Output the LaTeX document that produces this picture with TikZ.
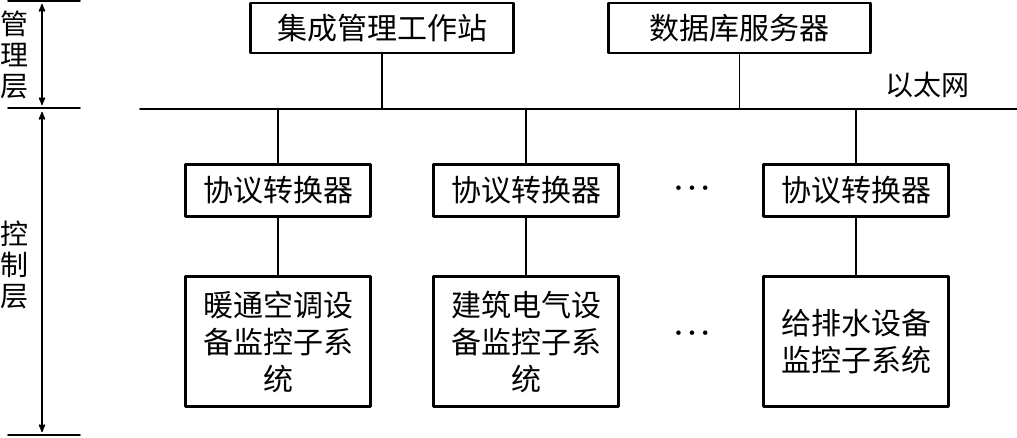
\documentclass[tikz,border=0pt]{standalone}
\usepackage{fontspec}
\newfontfamily\cjk{Noto Sans CJK SC}
\usepackage{tikz}
\usetikzlibrary{arrows}
\tikzstyle{box} = [draw, line width=2.6pt, inner sep=0pt, align=center, font=\cjk\fontsize{30}{37}\selectfont]
\tikzstyle{link} = [line width=1.3pt]
\tikzstyle{arrow} = [line width=1.6pt,<->,>=stealth']
\tikzstyle{layer} = [align=center, inner sep=0pt, font=\cjk\fontsize{28}{31}\selectfont]
\tikzstyle{more} = [inner sep=0pt, font=\fontsize{20}{22}\selectfont]

\begin{document}
\begin{tikzpicture}[line cap=round,line join=round,x=1pt,y=-1pt]
                \useasboundingbox (0,0) rectangle (1017,437);
                % management layer
                \node[box, minimum width=263pt, minimum height=50pt] (ws) at (382,28) {集成管理工作站};
                \node[box, minimum width=262pt, minimum height=50pt] (db) at (739.5,28) {数据库服务器};
                % ethernet
                \coordinate (busl) at (140,109);
                \coordinate (busr) at (1017,109);
                \draw [line width=1.6pt] (busl) -- (busr);
                \node[layer] (eth) at (927,85) {以太网};
                \draw [link] (ws.south) -- (ws.south |- busl);
                \draw [link] (db.south) -- (db.south |- busl);
                % control layer
                \node[box, minimum width=185pt, minimum height=52pt] (p1) at (278,190.5) {协议转换器};
                \node[box, minimum width=185pt, minimum height=52pt] (p2) at (526,190.5) {协议转换器};
                \node[box, minimum width=185pt, minimum height=52pt] (p3) at (856,190.5) {协议转换器};
                \node[box, minimum width=185pt, minimum height=130pt] (s1) at (278,341.5) {暖通空调设\\备监控子系\\统};
                \node[box, minimum width=185pt, minimum height=130pt] (s2) at (526,341.5) {建筑电气设\\备监控子系\\统};
                \node[box, minimum width=185pt, minimum height=130pt] (s3) at (856,341.5) {给排水设备\\监控子系统};
                \node[more] (d1) at (692,190) {\textbullet\hspace{-1pt}\textbullet\hspace{-1pt}\textbullet};
                \node[more] (d2) at (692,335) {\textbullet\hspace{-1pt}\textbullet\hspace{-1pt}\textbullet};
                \foreach \i in {1,2,3} {
                    \draw [link] (p\i.north |- busl) -- (p\i.north);
                    \draw [link] (p\i.south) -- (s\i.north);
                }
                % layer marks
                \coordinate (t1) at (8,1);
                \coordinate (t2) at (8,108);
                \coordinate (t3) at (8,435);
                \foreach \t in {t1,t2,t3}
                    \draw [line width=1.6pt] (\t) -- ++(72,0);
                \draw [arrow] ([xshift=34pt,yshift=-3pt]t1) -- ([xshift=34pt,yshift=3pt]t2);
                \draw [arrow] ([xshift=34pt,yshift=-4pt]t2) -- ([xshift=34pt,yshift=3pt]t3);
                \node[layer] (mgmt) at (15,55) {管\\理\\层};
                \node[layer] (ctrl) at (15,265) {控\\制\\层};
            \end{tikzpicture}
\end{document}
